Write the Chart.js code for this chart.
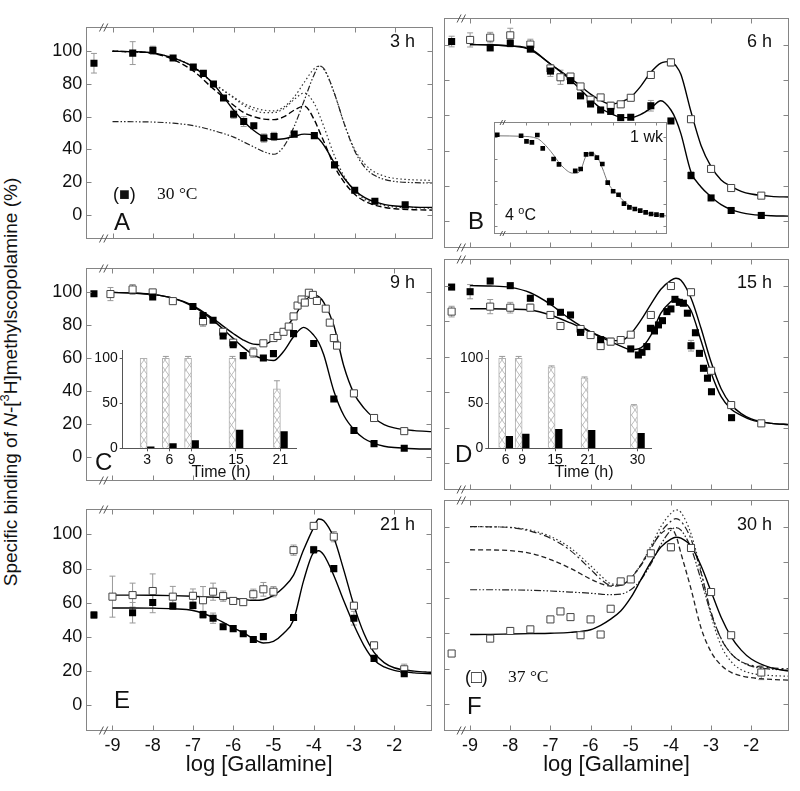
<!DOCTYPE html>
<html>
<head>
<meta charset="utf-8">
<title>Gallamine binding</title>
<script src="https://cdn.jsdelivr.net/npm/chart.js@4.4.1/dist/chart.umd.min.js"></script>
<style>
  html, body { margin: 0; background: #fff; }
  #wrap { position: relative; width: 800px; height: 791px; overflow: hidden;
          font-family: "Liberation Sans", Arial, sans-serif; color: #111; }
  #wrap canvas { position: absolute; }
  .lbl { position: absolute; white-space: nowrap; line-height: 1; }
  .serif { font-family: "Liberation Serif", "Times New Roman", serif; }
  sup { font-size: 0.68em; line-height: 0; vertical-align: 0.55em; }
  #ylab { position: absolute; left: 10px; top: 382px; font-size: 19px; line-height: 1; white-space: nowrap;
          transform: translate(-50%, -50%) rotate(-90deg); }
</style>
</head>
<body>
<div id="wrap"><div id="ylab">Specific binding of <i>N</i>-[<sup>3</sup>H]methylscopolamine (%)</div></div>
<script>
// x grid the model curves were read on (log M)
const GX = [-9, -8.5, -8, -7.5, -7, -6.5, -6, -5.75, -5.5, -5.25, -5, -4.75, -4.5, -4.25, -4, -3.875, -3.75, -3.5, -3.25, -3, -2.75, -2.5, -2.25, -2, -1.5, -1.05];
const XT = [-9, -8, -7, -6, -5, -4, -3, -2];
const YT = [0, 20, 40, 60, 80, 100];

// A: 3 h, 30 C
const aX = [-9.46, -8.5, -8, -7.5, -7, -6.75, -6.5, -6.25, -6, -5.75, -5.5, -5.25, -5, -4.5, -4, -3.5, -3, -2.5, -1.75];
const aY = [92.7, 98.9, 100.6, 95.9, 90.3, 86.5, 80, 71.4, 61.5, 57, 54.4, 46.9, 47.9, 49.3, 48.4, 30.5, 15, 8.2, 6];
const aErr = [6, 7, 2.5, 1.5, 1.5, 1, 1, 1.5, 2.5, 3, 1.5, 2.5, 2.5, 1.5, 1.5, 1.5, 1, 1, 1];
const aFit = [100, 99.8, 99, 96, 90.5, 80, 64, 57, 51.5, 47.5, 46, 46.5, 48, 49.3, 48.5, 46, 42, 31.5, 22, 15, 10.5, 7.8, 6.2, 5.3, 4.6, 4.4];
const aDash = [100, 99.7, 98.8, 95, 88, 77, 67, 62.5, 60, 58.5, 58.2, 60, 64, 66.5, 58, 51, 44, 29.5, 19.5, 12.5, 8.2, 5.8, 4.4, 3.6, 3, 2.8];
const aDot = [100, 99.7, 98.8, 96, 90.5, 80.5, 72, 68, 65.5, 64, 63.5, 66, 72, 81, 89.5, 91, 88.5, 74, 55, 40, 31, 26, 23.5, 22.2, 21.3, 21];
const aDot2 = [100, 99.7, 98.8, 96, 90.5, 80.5, 71.5, 67, 64, 62.5, 62.5, 65, 70.5, 74.5, 68, 61, 53, 36, 23, 14.5, 9.5, 7, 5.5, 4.7, 4.2, 4];
const aDdd = [57, 56.9, 56.7, 56, 54.5, 51.5, 47.5, 44.5, 41.5, 38.5, 37, 42, 54, 70, 86, 91, 89, 74, 55, 39, 29, 24, 21.5, 20.3, 19.6, 19.4];

// B: 6 h
const bfX = [-9.46, -8.5, -8, -7.5, -7, -6.5, -6.25, -6, -5.75, -5.5, -5.25, -5, -4.5, -4, -3.5, -3, -2.5, -1.75];
const bfY = [101.7, 98.1, 100.7, 97.4, 85, 79.6, 71, 66.4, 63, 62.2, 58.7, 58.9, 65.4, 56.8, 26, 13.3, 6.2, 3.4];
const bfErr = [3, 0, 2, 0, 3, 0, 0, 0, 0, 0, 0, 0, 3, 0, 2, 0, 0, 0];
const boX = [-9, -8.5, -8, -7.5, -7, -6.75, -6.5, -6.25, -6, -5.75, -5.5, -5.25, -5, -4.5, -4, -3.5, -3, -2.5, -1.75];
const boY = [102.6, 103.9, 105.2, 100, 86.5, 81.5, 81.9, 76.3, 68.8, 70.1, 65.4, 66.2, 69.9, 82.8, 89.9, 57.8, 29.7, 18.9, 14.6];
const boErr = [4, 3, 4, 3, 0, 4, 0, 0, 0, 0, 2, 0, 0, 2, 2, 0, 0, 0, 0];
const bFitF = [100, 99.8, 99.2, 97, 89, 80, 69, 64, 61, 59, 58.7, 60.5, 64, 68.2, 63, 57.5, 49.5, 28, 19.5, 14, 9.5, 6.7, 5, 4, 3.2, 3];
const bFitO = [100, 99.8, 99.2, 97.5, 89, 81, 72, 68.5, 66.3, 67.5, 70.3, 76.5, 84.3, 89.5, 90.5, 88, 83, 62, 43, 31, 23.5, 19.8, 17, 15.5, 14.2, 13.8];
// B inset: 1 wk, 4 C
const ibX = [-9.35, -8.25, -8, -7.75, -7.5, -7.25, -6.75, -6.5, -5.75, -5.5, -5.25, -5, -4.75, -4.5, -4.25, -4, -3.75, -3.5, -3.25, -3, -2.75, -2.5, -2.25, -2, -1.75];
const ibY = [102.2, 101.1, 94.8, 93.7, 101.9, 87, 75, 69.1, 61.9, 63.8, 80.3, 80.6, 76.5, 69.4, 48.5, 38.9, 35, 25, 20.9, 19, 17.1, 15.3, 13.4, 12.7, 12];
const ibFitX = [-9.35, -8.25, -7.5, -7.25, -7, -6.75, -6.5, -6.25, -6, -5.75, -5.5, -5.25, -5, -4.75, -4.5, -4.25, -4, -3.75, -3.5, -3, -2.5, -2, -1.5];
const ibFit = [101, 100.5, 98, 93.5, 87, 79.5, 71, 64.5, 60, 59, 62.5, 78.5, 81.5, 78, 65, 49, 40, 34, 27.5, 19.5, 15, 12.5, 11.2];

// C: 9 h
const cfX = [-9.46, -8, -7, -6.75, -6.5, -6.25, -6, -5.75, -5.25, -5, -4.5, -4, -3.5, -3, -2.5, -1.75];
const cfY = [99.2, 97.2, 91.4, 85.9, 83.1, 73.5, 68.1, 61.5, 60, 62.7, 74.9, 68.9, 35.1, 15.9, 7.9, 5.1];
const coX = [-9.05, -8.5, -8, -7.5, -6.75, -6.25, -6, -5.5, -5.25, -5, -4.9, -4.75, -4.62, -4.5, -4.4, -4.3, -4.22, -4.12, -4.02, -3.92, -3.7, -3.6, -3.5, -3.42, -3, -2.5, -1.75];
const coY = [99, 101.8, 100, 94.7, 82.4, 76, 69.4, 63.4, 69, 72.2, 73.5, 76, 79.2, 85.4, 92, 95.7, 93.8, 99.8, 98.5, 94.8, 90.1, 81.6, 72.2, 67.6, 38.5, 23.5, 15.5];
const coErr = [4, 3, 0, 0, 3, 0, 0, 3, 0, 0, 0, 0, 0, 0, 0, 0, 0, 0, 0, 0, 0, 0, 0, 0, 2, 0, 0];
const cFitF = [100, 99.6, 98.7, 96.5, 91.5, 83, 72, 66.5, 62, 59.5, 58.5, 64, 73, 78.7, 74, 69.5, 62, 40, 25, 16.5, 11, 8, 6.3, 5.5, 4.8, 4.6];
const cFitO = [100, 99.6, 98.8, 96.5, 92, 84, 75, 71, 68.5, 68.2, 71.5, 77, 84.5, 94, 98.5, 97.5, 94, 80, 55, 38.5, 29.5, 23.5, 19.5, 17.5, 15.8, 15.2];
// C inset bars
const cT = [3, 6, 9, 15, 21];
const cHatch = [100, 100, 100, 100, 66];
const cHatchErr = [0, 2, 2, 2, 9];
const cSolid = [1.7, 5.2, 8.7, 20.2, 18.5];

// D: 15 h
const dfX = [-9.46, -9, -8.5, -8, -7.5, -7, -6.75, -6.5, -6.25, -5.75, -5, -4.81, -4.72, -4.6, -4.51, -4.41, -4.31, -4.21, -4.1, -4, -3.9, -3.79, -3.69, -3.59, -3.5, -3.39, -3.29, -3.19, -3.09, -2.99, -2.49];
const dfY = [99.2, 96.6, 102.6, 100, 92.9, 91, 85, 83.5, 73.7, 69.6, 64.4, 61, 62.5, 65.7, 76, 74.5, 77.9, 80.3, 85.4, 86.9, 92.3, 90.6, 90.1, 84.5, 66.2, 73.5, 61.9, 53.5, 47.9, 40.3, 25.7];
const dfErr = [0, 4, 0, 0, 0, 2, 0, 0, 0, 0, 0, 0, 0, 0, 0, 0, 0, 0, 0, 0, 0, 0, 0, 0, 3, 0, 0, 0, 0, 0, 0];
const doX = [-9.46, -8.5, -8, -7.5, -7, -6.75, -6.25, -6, -5.75, -5.5, -5.25, -5, -4.5, -4, -3.5, -3, -2.5, -1.75];
const doY = [85.4, 88.2, 87.6, 87.6, 83.5, 77.3, 75.6, 72.2, 66, 68.5, 69.4, 72.4, 83.5, 99.8, 96.3, 52.1, 32.8, 22.5];
const doErr = [3, 4, 3, 2, 0, 2, 0, 0, 0, 2, 0, 0, 0, 0, 0, 0, 0, 0];
const dFitF = [100, 99.8, 99, 96, 89.5, 81, 74, 71, 68.5, 66, 64, 65, 72, 84.5, 91, 92.8, 92, 86, 69, 51, 37.5, 30.5, 27, 24.5, 22.5, 21.8];
const dFitO = [87, 87, 86.8, 86.3, 83.5, 79, 74, 71.5, 69.5, 69, 73, 80.5, 89.5, 98, 103, 104.2, 103, 93, 76, 57, 42, 33, 28, 25, 22.5, 21.8];
// D inset bars
const dT = [6, 9, 15, 21, 30];
const dHatch = [100, 100, 90.5, 78.2, 47.4];
const dHatchErr = [2, 2, 1, 1, 1];
const dSolid = [13.3, 15.8, 21, 20, 16.5];

// E: 21 h
const efX = [-9.46, -8.5, -8, -7.5, -7, -6.75, -6.5, -6.25, -6, -5.75, -5.5, -5.25, -4.5, -4, -3.5, -3, -2.5, -1.75];
const efY = [52.9, 54.2, 60.2, 58.1, 58.5, 53.1, 51, 46, 44.9, 41.9, 38.5, 40.2, 51.4, 91, 80, 51, 27.5, 18.5];
const efErr = [2, 6, 6, 2, 2, 2, 3, 1.5, 1.5, 1.5, 1, 1, 1.5, 2, 1.5, 4, 1, 1];
const eoX = [-9, -8.5, -8, -7.5, -7, -6.75, -6.5, -6.25, -6, -5.75, -5.5, -5.25, -5, -4.5, -4, -3.5, -3, -2.5, -1.75];
const eoY = [63.6, 64.5, 66.9, 63.6, 64.1, 61.5, 66.5, 63.9, 61.1, 60.4, 65, 67.9, 66.5, 90.8, 105, 98.7, 58.3, 35.1, 21.1];
const eoErr = [12, 7, 10, 6, 4, 8, 5, 3, 2, 2, 3, 4, 3, 3, 2, 3, 2, 2, 3];
const eFitF = [57, 57, 56.9, 56.5, 55.5, 51.5, 45.5, 42.5, 39, 36.5, 37.5, 42, 50, 73, 89.5, 90.5, 88, 76, 61, 47, 35, 26.5, 22.5, 20.5, 19, 18.5];
const eFitO = [64.5, 64.5, 64.4, 64.2, 63.8, 63.3, 62.5, 62, 61.4, 61.8, 64.3, 69, 76.2, 91, 104, 109, 108, 98, 79, 58.5, 42, 31, 25, 22, 20, 19.3];

// F: 30 h, 37 C
const foX = [-9.46, -8.5, -8, -7.5, -7, -6.75, -6.5, -6.25, -6, -5.75, -5.5, -5.25, -5, -4.5, -4, -3.5, -3, -2.5, -1.75];
const foY = [28.6, 37, 41.3, 42.2, 47.8, 52.3, 49.1, 38.9, 47.8, 39.3, 53.8, 69.2, 70.3, 85, 88.4, 88, 63.2, 38.9, 17.9];
const foErr = [0, 0, 0, 0, 0, 0, 0, 0, 0, 0, 0, 0, 0, 0, 2, 2, 0, 0, 4];
const fFit = [39.3, 39.4, 39.6, 39.8, 40, 40.5, 42, 44.5, 48, 52.5, 60, 70, 80, 88.5, 93, 94, 93.5, 89, 78, 63.5, 49, 38, 30.5, 25.5, 20.5, 18.7];
const fDashDot = [100, 99.9, 99.5, 97.5, 93.5, 86.5, 76, 70.5, 67, 67, 71, 78, 87.5, 97, 103, 104.5, 103, 93, 74, 52, 37, 28.5, 24, 22, 20.5, 20];
const fDot = [100, 99.9, 99.6, 98, 94.5, 88, 78, 72.5, 68, 67.5, 71, 78.5, 89, 100, 107.5, 109.5, 108, 96, 75, 50, 33, 24, 19.5, 17.5, 16.2, 15.8];
const fDash = [87, 86.9, 86.5, 85, 81.5, 76.5, 70.5, 68, 66.5, 67, 71, 78.5, 88, 96, 99, 95, 85, 65, 43, 29.5, 22, 18, 16, 15, 14, 13.6];
const fDdd = [64.5, 64.5, 64.4, 64.2, 63.8, 63.2, 62.5, 62, 61.7, 62, 64.5, 70, 79, 90, 98, 99.5, 98, 88, 70, 51, 37, 28.5, 24, 21.5, 19.8, 19.3];

const PL = [86.3, 443.5], PT = [17, 258.8, 499.5], PW = 347, PH = 231.5;
const XMIN = -9.65, XMAX = -1.06;

Chart.defaults.font.family = '"Liberation Sans", Arial, sans-serif';
Chart.defaults.color = '#111';

const wrap = document.getElementById("wrap");
const pts = (xs, ys) => xs.map((x, i) => ({ x, y: ys[i] }));

// box frame with inward ticks + axis break marks
const frame = {
  id: 'frame',
  defaults: { on: false, color: '#858585', len: 5, xt: [], yt: [], brk: null, brkSize: 4 },
  afterDatasetsDraw(chart, args, o) {
    if (!o.on) return;
    const { ctx, chartArea: a, scales: { x, y } } = chart;
    const L = Math.round(a.left) + 0.5, R = Math.round(a.right) - 0.5;
    const T = Math.round(a.top) + 0.5, B = Math.round(a.bottom) - 0.5;
    ctx.save();
    ctx.strokeStyle = o.color; ctx.lineWidth = 1;
    ctx.strokeRect(L, T, R - L, B - T);
    ctx.beginPath();
    o.xt.forEach(v => {
      const p = Math.round(x.getPixelForValue(v)) + 0.5;
      ctx.moveTo(p, T); ctx.lineTo(p, T + o.len);
      ctx.moveTo(p, B); ctx.lineTo(p, B - o.len);
    });
    o.yt.forEach(v => {
      const p = Math.round(y.getPixelForValue(v)) + 0.5;
      ctx.moveTo(L, p); ctx.lineTo(L + o.len, p);
      ctx.moveTo(R, p); ctx.lineTo(R - o.len, p);
    });
    ctx.stroke();
    if (o.brk != null) {
      const b = x.getPixelForValue(o.brk), s = o.brkSize;
      ctx.strokeStyle = '#555';
      ctx.beginPath();
      [T, B].forEach(yy => [-s * 0.55, s * 0.55].forEach(dx => {
        ctx.moveTo(b + dx - s * 0.5, yy + s); ctx.lineTo(b + dx + s * 0.5, yy - s);
      }));
      ctx.stroke();
    }
    ctx.restore();
  }
};

// vertical error bars, drawn under the markers
const errBars = {
  id: 'errBars',
  beforeDatasetsDraw(chart) {
    const { ctx, scales: { y } } = chart;
    ctx.save();
    ctx.strokeStyle = '#999'; ctx.lineWidth = 1;
    chart.data.datasets.forEach((ds, di) => {
      if (!ds.err) return;
      chart.getDatasetMeta(di).data.forEach((el, i) => {
        const e = ds.err[i];
        if (!e) return;
        const v = ds.data[i].y;
        const t = y.getPixelForValue(v + e), b = y.getPixelForValue(v - e);
        ctx.beginPath();
        ctx.moveTo(el.x, t); ctx.lineTo(el.x, b);
        ctx.moveTo(el.x - 3, t); ctx.lineTo(el.x + 3, t);
        ctx.moveTo(el.x - 3, b); ctx.lineTo(el.x + 3, b);
        ctx.stroke();
      });
    });
    ctx.restore();
  }
};
Chart.register(frame, errBars);

function addCanvas(l, t, w, h) {
  const c = document.createElement("canvas");
  c.width = w; c.height = h;
  c.style.left = l + "px"; c.style.top = t + "px";
  wrap.appendChild(c);
  return c;
}

function dots(xs, ys, open, err, r = 5) {
  return { data: pts(xs, ys), showLine: false, pointStyle: 'rect', pointRadius: r, pointHoverRadius: r,
    backgroundColor: open ? '#fff' : '#000', borderColor: open ? '#444' : '#000', borderWidth: open ? 1 : 0, err };
}
function curve(ys, dash, xs = GX, color = '#000', w = 1.4) {
  return { data: pts(xs, ys), showLine: true, pointRadius: 0, borderColor: color, borderWidth: w,
    borderDash: dash || [], cubicInterpolationMode: 'monotone', fill: false };
}

function panel(col, row, datasets) {
  const left = PL[col], top = PT[row], bottomRow = row === 2;
  const cl = col === 0 ? 30 : Math.floor(left - 5);
  const ct = Math.floor(top - 5);
  const cr = Math.ceil(left + PW + 4);
  const cb = bottomRow ? 791 : Math.ceil(top + PH + 5);
  new Chart(addCanvas(cl, ct, cr - cl, cb - ct), {
    type: 'scatter',
    data: { datasets },
    options: {
      responsive: false, animation: false, events: [],
      layout: { padding: { left: col === 0 ? 0 : left - cl, top: top - ct, right: cr - (left + PW), bottom: bottomRow ? 0 : cb - (top + PH) } },
      plugins: { legend: { display: false }, tooltip: { enabled: false },
        frame: { on: true, xt: XT, yt: YT, brk: -9.22 } },
      scales: {
        x: { type: 'linear', min: XMIN, max: XMAX, display: bottomRow,
          afterBuildTicks: s => { s.ticks = XT.map(v => ({ value: v })); },
          afterFit: s => { if (bottomRow) s.height = 791 - (top + PH); },
          grid: { display: false, drawTicks: false }, border: { display: false },
          ticks: { padding: 4, font: { size: 18 }, color: '#111', autoSkip: false, maxRotation: 0 },
          title: { display: true, text: 'log [Gallamine]', font: { size: 22 }, color: '#111', padding: { top: 0, bottom: 13 } } },
        y: { min: -15, max: 115, display: col === 0,
          afterBuildTicks: s => { s.ticks = YT.map(v => ({ value: v })); },
          afterFit: s => { if (col === 0) s.width = left - cl; },
          grid: { display: false, drawTicks: false }, border: { display: false },
          ticks: { padding: 4, font: { size: 18 }, color: '#111' } }
      }
    }
  });
}

// crosshatch fill for the light bars
function hatchFill() {
  const c = document.createElement("canvas");
  c.width = 7; c.height = 10;
  const g = c.getContext("2d");
  g.fillStyle = '#fff'; g.fillRect(0, 0, 7, 10);
  g.strokeStyle = '#bdbdbd'; g.lineWidth = 1;
  g.beginPath(); g.moveTo(0, 0); g.lineTo(7, 10); g.moveTo(7, 0); g.lineTo(0, 10); g.stroke();
  return g.createPattern(c, 'repeat');
}
const HATCH = hatchFill();

function barInset(cl, ct, cw, ch, areaL, areaR, areaB, xr, ts, hv, he, sv) {
  new Chart(addCanvas(cl, ct, cw, ch), {
    type: 'bar',
    data: { datasets: [
      { data: pts(ts, hv), backgroundColor: HATCH, borderColor: '#b0b0b0', borderWidth: 1, barThickness: 7, err: he },
      { data: pts(ts, sv), backgroundColor: '#000', borderWidth: 0, barThickness: 7 }
    ] },
    options: {
      responsive: false, animation: false, events: [],
      layout: { padding: { left: 0, top: 5, right: cl + cw - areaR, bottom: 0 } },
      plugins: { legend: { display: false }, tooltip: { enabled: false } },
      scales: {
        x: { type: 'linear', min: xr[0], max: xr[1], offset: false,
          afterBuildTicks: s => { s.ticks = ts.map(v => ({ value: v })); },
          afterFit: s => { s.height = ct + ch - areaB; },
          grid: { display: true, drawOnChartArea: false, drawTicks: true, tickLength: 3, offset: false, color: '#555' },
          border: { display: true, color: '#555' },
          ticks: { padding: 0, font: { size: 14 }, color: '#111', autoSkip: false, maxRotation: 0 } },
        y: { min: 0, max: 108.7,
          afterBuildTicks: s => { s.ticks = [0, 50, 100].map(v => ({ value: v })); },
          afterFit: s => { s.width = areaL - cl; },
          grid: { display: true, drawOnChartArea: false, drawTicks: true, tickLength: 3, color: '#555' },
          border: { display: true, color: '#555' },
          ticks: { padding: 2, font: { size: 14 }, color: '#111' } }
      }
    }
  });
}

function txt(html, x, base, size, o = {}) {
  const d = document.createElement("div");
  d.className = "lbl" + (o.serif ? " serif" : "");
  d.innerHTML = html;
  d.style.fontSize = size + "px";
  d.style.top = (base - (o.serif ? 0.8375 : 0.8465) * size) + "px";
  if (o.right) d.style.right = (800 - x) + "px";
  else d.style.left = x + "px";
  if (o.center) d.style.transform = "translateX(-50%)";
  wrap.appendChild(d);
}

// A
panel(0, 0, [
  dots(aX, aY, false, aErr),
  curve(aFit), curve(aDash, [6, 3]), curve(aDot, [1.5, 2.5], GX, '#333', 1.2),
  curve(aDot2, [1.5, 2.5], GX, '#333', 1.2), curve(aDdd, [6, 2, 1.5, 2, 1.5, 2], GX, '#222', 1.2)
]);
// B
panel(1, 0, [
  dots(bfX, bfY, false, bfErr), dots(boX, boY, true, boErr),
  curve(bFitF), curve(bFitO)
]);
// B inset (1 wk at 4 C)
new Chart(addCanvas(489, 117, 184, 122), {
  type: 'scatter',
  data: { datasets: [ dots(ibX, ibY, false, null, 3.3), curve(ibFit, null, ibFitX, '#777', 1) ] },
  options: {
    responsive: false, animation: false, events: [],
    layout: { padding: { left: 5, top: 5, right: 5.7, bottom: 5 } },
    plugins: { legend: { display: false }, tooltip: { enabled: false },
      frame: { on: true, len: 3, xt: [-8, -7, -6, -5, -4, -3, -2], yt: [0, 25, 50, 75, 100], brk: -9.1, brkSize: 2.5 } },
    scales: {
      x: { type: 'linear', min: -9.5, max: -1.5, display: false },
      y: { min: -9, max: 116.5, display: false }
    }
  }
});
// C
panel(0, 1, [
  dots(cfX, cfY, false), dots(coX, coY, true, coErr),
  curve(cFitF), curve(cFitO)
]);
barInset(95, 340, 205, 145, 122.7, 296.7, 448.3, [-0.3, 23.2], cT, cHatch, cHatchErr, cSolid);
// D
panel(1, 1, [
  dots(dfX, dfY, false, dfErr), dots(doX, doY, true, doErr),
  curve(dFitF), curve(dFitO)
]);
barInset(460, 340, 195, 145, 488.3, 651.7, 448.3, [2.83, 32.6], dT, dHatch, dHatchErr, dSolid);
// E
panel(0, 2, [
  dots(efX, efY, false, efErr), dots(eoX, eoY, true, eoErr),
  curve(eFitF), curve(eFitO)
]);
// F
panel(1, 2, [
  dots(foX, foY, true, foErr),
  curve(fFit), curve(fDashDot, [7, 3, 2, 3], GX, '#222', 1.2), curve(fDot, [1.5, 2.5], GX, '#333', 1.2),
  curve(fDash, [5, 3], GX, '#222', 1.3), curve(fDdd, [7, 2, 1.5, 2, 1.5, 2], GX, '#222', 1.2)
]);

// panel annotations
txt("3 h", 415, 47, 18, { right: true });
txt("A", 114, 230, 24);
txt("(■)", 113, 200, 18);
txt("30 °C", 157, 200, 17.5, { serif: true });
txt("6 h", 772, 47, 18, { right: true });
txt("B", 468, 229, 24);
txt("1 wk", 663, 143, 16, { right: true });
txt("4 <sup>o</sup>C", 505, 221, 16);
txt("9 h", 415, 288, 18, { right: true });
txt("C", 95, 470, 24);
txt("Time (h)", 221, 478, 16, { center: true });
txt("15 h", 772, 288, 18, { right: true });
txt("D", 455, 462, 24);
txt("Time (h)", 584, 478, 16, { center: true });
txt("21 h", 415, 530, 18, { right: true });
txt("E", 114, 708, 24);
txt("30 h", 772, 530, 18, { right: true });
txt("F", 467, 714, 24);
txt("(□)", 465, 683, 18);
txt("37 °C", 508, 683, 17.5, { serif: true });
</script>
</body>
</html>
